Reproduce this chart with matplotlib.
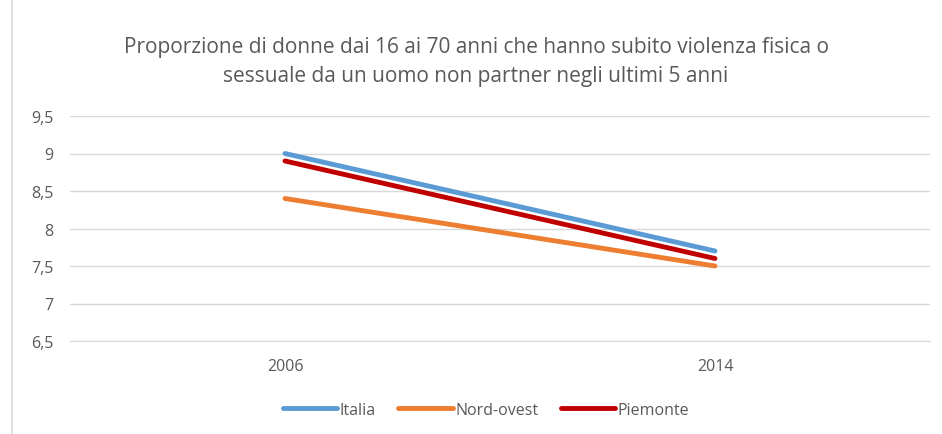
import matplotlib
matplotlib.use("Agg")
import matplotlib.pyplot as plt
from matplotlib.patches import Rectangle

years = ["2006", "2014"]
italia = [9.0, 7.7]
nord_ovest = [8.4, 7.5]
piemonte = [8.9, 7.6]
yticks = [6.5, 7, 7.5, 8, 8.5, 9, 9.5]
ytick_labels = ["6,5", "7", "7,5", "8", "8,5", "9", "9,5"]
title = "Proporzione di donne dai 16 ai 70 anni che hanno subito violenza fisica o\nsessuale da un uomo non partner negli ultimi 5 anni"

plt.rcParams['font.family'] = ['Open Sans', 'DejaVu Sans']
W, H = 942, 435
fig = plt.figure(figsize=(W/100, H/100), dpi=100)
fig.patch.set_facecolor('white')
fig.add_artist(Rectangle((12/W, -0.01), 1.2, 1.2, transform=fig.transFigure,
                         fill=False, edgecolor='#d9d9d9', linewidth=1.2))

L, R = 70, 930
top, bot = 117, 342
ax = fig.add_axes([L/W, 1 - bot/H, (R-L)/W, (bot-top)/H])
x = [0, 1]
ax.plot(x, italia, color='#5B9BD5', lw=3.5, solid_capstyle='round', label='Italia')
ax.plot(x, nord_ovest, color='#ED7D31', lw=3.5, solid_capstyle='round', label='Nord-ovest')
ax.plot(x, piemonte, color='#C00000', lw=3.5, solid_capstyle='round', label='Piemonte')
ax.set_xlim(-0.5, 1.5)
ax.set_ylim(6.5, 9.5)
ax.set_yticks(yticks)
ax.set_yticklabels(ytick_labels)
ax.set_xticks(x)
ax.set_xticklabels(years)
ax.grid(axis='y', color='#d9d9d9', lw=1)
ax.set_axisbelow(True)
for s in ['top', 'right', 'left']:
    ax.spines[s].set_visible(False)
ax.spines['bottom'].set_color('#d9d9d9')
ax.tick_params(axis='both', length=0, colors='#595959', labelsize=11.5)
ax.tick_params(axis='y', pad=12)
ax.tick_params(axis='x', pad=12)
fig.text(476/W, 1 - 62/H, title, ha='center', va='center', fontsize=15,
         color='#595959', linespacing=1.55)
leg = fig.legend(loc='center', bbox_to_anchor=(486/W, 1 - 411/H), ncol=3, frameon=False,
                 fontsize=11.5, handlelength=3.4, columnspacing=1.4, handletextpad=0.15)
for t in leg.get_texts():
    t.set_color('#595959')
fig.savefig('out.png', dpi=100)
